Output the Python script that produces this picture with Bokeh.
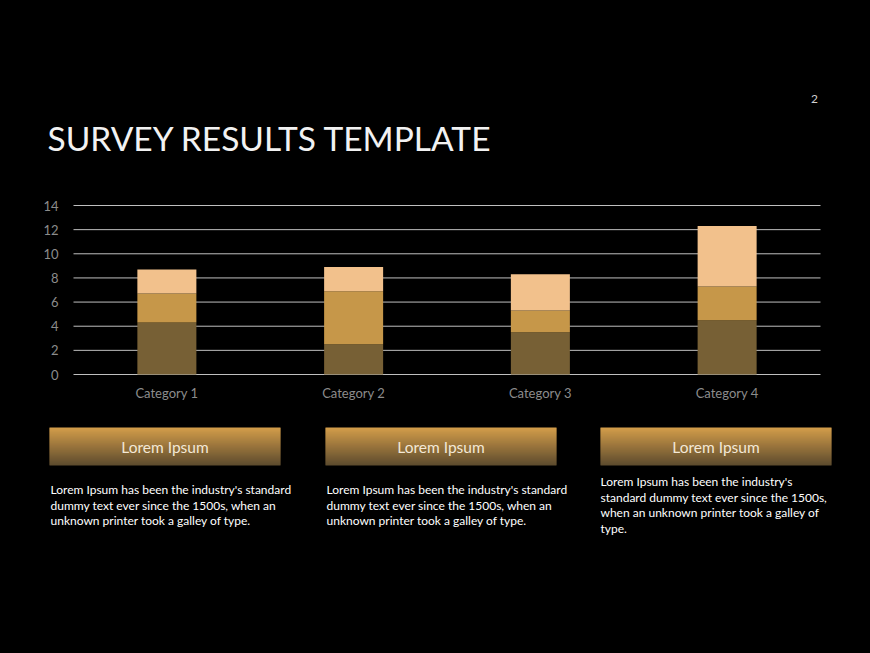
import numpy as np
from bokeh.plotting import figure
from bokeh.models import (ColumnDataSource, Range1d, LinearAxis, LinearScale,
                          FixedTicker, GlobalInlineStyleSheet)
from bokeh.core.properties import value
from bokeh.embed import file_html
from bokeh.resources import INLINE

# ---------------- data ----------------
categories = ["Category 1", "Category 2", "Category 3", "Category 4"]
series_1 = [4.3, 2.5, 3.5, 4.5]
series_2 = [2.4, 4.4, 1.8, 2.8]
series_3 = [2.0, 2.0, 3.0, 5.0]
y_ticks = [0, 2, 4, 6, 8, 10, 12, 14]

title_text = "SURVEY RESULTS TEMPLATE"
page_number = "2"
box_titles = ["Lorem Ipsum", "Lorem Ipsum", "Lorem Ipsum"]
box_texts = [
    ["Lorem Ipsum has been the industry's standard",
     "dummy text ever since the 1500s, when an",
     "unknown  printer took a galley of type."],
    ["Lorem Ipsum has been the industry's standard",
     "dummy text ever since the 1500s, when an",
     "unknown  printer took a galley of type."],
    ["Lorem Ipsum has been the industry's",
     "standard dummy  text ever since the 1500s,",
     "when an unknown  printer took a galley of",
     "type."],
]

FONT = "Lato"
BG = "#000000"
W, H = 854, 637

# ---------------- geometry (page pixels) ----------------
n_cat = len(categories)
CAT_L, CAT_R = 73, 820          # extent of the category band
Y0_PX, Y14_PX = 374, 205        # pixel rows of value 0 and value 14
FRAME_L, FRAME_R, FRAME_T, FRAME_B = 39, W, 0, 597
cat_w = (CAT_R - CAT_L) / n_cat
x_start = -(CAT_L - FRAME_L) / cat_w
x_end = n_cat + (FRAME_R - CAT_R) / cat_w
k = (Y0_PX - Y14_PX) / 14.0
v_start = -(FRAME_B - Y0_PX) / k
v_end = (Y0_PX - FRAME_T) / k

cat_pos = [i + 0.5 for i in range(n_cat)]

p = figure(width=W, height=H, x_range=Range1d(x_start, x_end),
           y_range=Range1d(v_start, v_end),
           output_backend="svg", toolbar_location=None,
           x_axis_location=None, y_axis_location=None,
           min_border_left=FRAME_L, min_border_right=W - FRAME_R,
           min_border_top=FRAME_T, min_border_bottom=H - FRAME_B,
           background_fill_color=BG, border_fill_color=BG)
p.outline_line_color = None
p.xgrid.visible = False
p.ygrid.visible = False
p.extra_x_ranges = {"px": Range1d(FRAME_L, FRAME_R)}
p.extra_y_ranges = {"py": Range1d(FRAME_B, FRAME_T)}
p.extra_x_scales = {"px": LinearScale()}
p.extra_y_scales = {"py": LinearScale()}

# grid lines across the category band
p.segment(x0=[0] * len(y_ticks), x1=[n_cat] * len(y_ticks), y0=y_ticks, y1=y_ticks,
          line_color="#BFBFBF", line_width=1)

# stacked bars
src = ColumnDataSource(dict(x=cat_pos, s1=series_1, s2=series_2, s3=series_3))
p.vbar_stack(["s1", "s2", "s3"], x="x", width=0.316, source=src,
             color=["#776035", "#C69749", "#F2C18C"], line_color=None)

# axes (pinned to the chart band)
yax = LinearAxis(ticker=FixedTicker(ticks=y_ticks), fixed_location=0)
xax = LinearAxis(ticker=FixedTicker(ticks=cat_pos), fixed_location=0,
                 major_label_overrides=dict(zip(cat_pos, categories)))
for ax in (xax, yax):
    ax.axis_line_color = None
    ax.major_tick_line_color = None
    ax.minor_tick_line_color = None
    ax.major_tick_out = 0
    ax.major_tick_in = 0
    ax.minor_tick_out = 0
    ax.major_label_text_color = "#8C8C8C"
    ax.major_label_text_font = FONT
    ax.major_label_text_font_size = "13px"
yax.major_label_standoff = 15
xax.major_label_standoff = 10
p.add_layout(yax, "left")
p.add_layout(xax, "below")

# ---------------- title & page number ----------------
p.text(x=[47], y=[137], text=[title_text], text_font=value(FONT),
       text_font_size="33.5px", text_color="#F2F2F2", text_baseline="alphabetic",
       text_align="left", x_range_name="px", y_range_name="py")
p.text(x=[814], y=[98], text=[page_number], text_font=value(FONT),
       text_font_size="12px", text_color="#D0D0D0", text_baseline="middle",
       text_align="center", x_range_name="px", y_range_name="py")

# ---------------- gradient boxes ----------------
box_lefts = [49, 325, 600]
box_w = 231
box_top, box_bot = 427, 465
n = box_bot - box_top
c_top = np.array([0xD2, 0x9C, 0x4A], dtype=float)
c_bot = np.array([0x5E, 0x4C, 0x2E], dtype=float)
L, R, T, B, C = [], [], [], [], []
for bl in box_lefts:
    for i in range(n):
        t = i / (n - 1)
        c = c_top + (c_bot - c_top) * t
        L.append(bl)
        R.append(bl + box_w)
        T.append(box_top + i)
        B.append(min(box_top + i + 1.4, box_bot))
        C.append("#%02x%02x%02x" % tuple(int(round(v)) for v in c))
p.quad(left=L, right=R, top=T, bottom=B, fill_color=C, line_color=None,
       x_range_name="px", y_range_name="py")

p.text(x=[bl + box_w / 2 for bl in box_lefts], y=[446] * 3, text=box_titles,
       text_font=value(FONT), text_font_size="15.5px", text_color="#F3E8D6",
       text_align="center", text_baseline="middle", x_range_name="px", y_range_name="py")

text_x = [50, 326, 600]
text_y0 = [489, 489, 481]
tx_all, ty_all, tt_all = [], [], []
for tx, ty, lines in zip(text_x, text_y0, box_texts):
    for j, line in enumerate(lines):
        tx_all.append(tx)
        ty_all.append(ty + 15.6 * j)
        tt_all.append(line)
p.text(x=tx_all, y=ty_all, text=tt_all, text_font=value(FONT),
       text_font_size="12px", text_color="#FFFFFF", text_align="left",
       text_baseline="middle", x_range_name="px", y_range_name="py")

p.stylesheets = [GlobalInlineStyleSheet(css="html, body { background: #000000; margin: 0; padding: 0; }")]

open("out.html", "w").write(file_html(p, INLINE))
